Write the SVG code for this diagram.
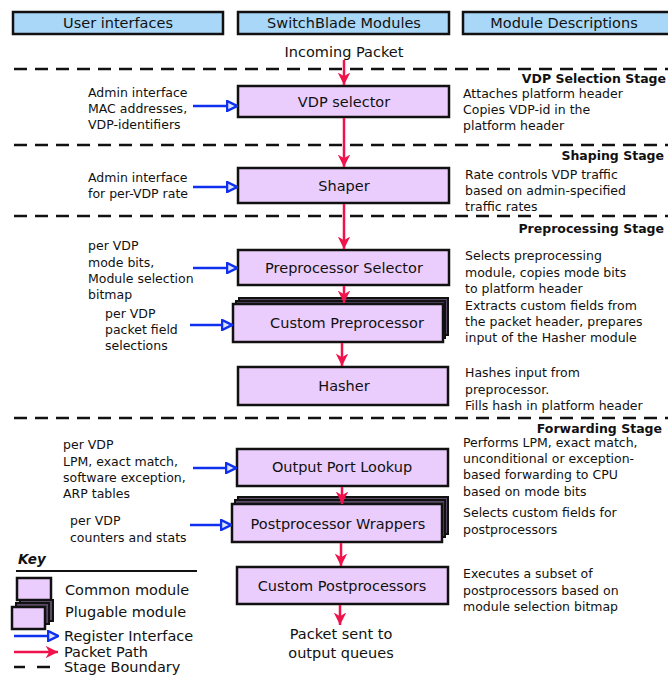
<svg xmlns="http://www.w3.org/2000/svg" width="668" height="675" viewBox="0 0 668 675">
  <defs>
    <marker id="redHead" viewBox="0 0 10 10" refX="10" refY="5" markerWidth="5" markerHeight="5" markerUnits="strokeWidth" orient="auto">
      <path d="M0,0 L10,5 L0,10 L3,5 z" fill="#f0124a"/>
    </marker>
    <marker id="blueHead" viewBox="0 0 10 10" refX="9" refY="5" markerWidth="5" markerHeight="5" markerUnits="strokeWidth" orient="auto">
      <path d="M1,1 L9,5 L1,9 z" fill="#dfe6ff" stroke="#1030f0" stroke-width="2"/>
    </marker>
  </defs>
  <style>
    text { font-family: "DejaVu Sans", "Noto Sans", sans-serif; fill: #111; }
    .hdr { font-size: 14.5px; text-anchor: middle; }
    .mod { font-size: 14.5px; text-anchor: middle; }
    .t { font-size: 12.5px; }
    .stage { font-size: 12.5px; font-weight: bold; text-anchor: end; }
    .hbox { fill: #a9d7f7; stroke: #111; stroke-width: 2.5; }
    .box { fill: #ebcdfd; stroke: #111; stroke-width: 2.5; }
    .back { fill: #5a4a66; stroke: #111; stroke-width: 2; }
    .dash { stroke: #111; stroke-width: 2.5; stroke-dasharray: 13 8; fill: none; }
    .red { stroke: #f0124a; stroke-width: 2.5; fill: none; marker-end: url(#redHead); }
    .blue { stroke: #1030f0; stroke-width: 2.5; fill: none; marker-end: url(#blueHead); }
  </style>

  <!-- column headers -->
  <g id="hdr-user">
    <rect class="hbox" x="13" y="12" width="210" height="22"/>
    <text class="hdr" x="118" y="28">User interfaces</text>
  </g>
  <g id="hdr-modules">
    <rect class="hbox" x="238" y="12" width="211" height="22"/>
    <text class="hdr" x="344" y="28">SwitchBlade Modules</text>
  </g>
  <g id="hdr-desc">
    <rect class="hbox" x="463" y="12" width="210" height="22"/>
    <text class="hdr" x="564" y="28">Module Descriptions</text>
  </g>

  <text class="hdr" x="344" y="57">Incoming Packet</text>

  <!-- stage boundaries -->
  <g id="boundaries">
    <line class="dash" x1="14" y1="69" x2="668" y2="69"/>
    <line class="dash" x1="14" y1="145" x2="668" y2="145"/>
    <line class="dash" x1="14" y1="216" x2="668" y2="216"/>
    <line class="dash" x1="14" y1="418" x2="668" y2="418"/>
  </g>
  <text class="stage" x="666" y="83">VDP Selection Stage</text>
  <text class="stage" x="664" y="160">Shaping Stage</text>
  <text class="stage" x="664" y="233">Preprocessing Stage</text>
  <text class="stage" x="662" y="433">Forwarding Stage</text>

  <!-- modules -->
  <g id="vdp-selector">
    <rect class="box" x="238" y="86" width="211" height="31"/>
    <text class="mod" x="344" y="107">VDP selector</text>
  </g>
  <g id="shaper">
    <rect class="box" x="238" y="168" width="211" height="35"/>
    <text class="mod" x="344" y="191">Shaper</text>
  </g>
  <g id="preproc-selector">
    <rect class="box" x="238" y="250" width="211" height="35"/>
    <text class="mod" x="344" y="273">Preprocessor Selector</text>
  </g>
  <g id="custom-preproc">
    <rect class="back" x="239" y="298" width="209" height="37"/>
    <rect class="back" x="236" y="301" width="209" height="37"/>
    <rect class="box" x="233" y="304" width="210" height="38"/>
    <text class="mod" x="347" y="328">Custom Preprocessor</text>
  </g>
  <g id="hasher">
    <rect class="box" x="238" y="367" width="210" height="38"/>
    <text class="mod" x="344" y="391">Hasher</text>
  </g>
  <g id="output-port-lookup">
    <rect class="box" x="237" y="449" width="211" height="37"/>
    <text class="mod" x="342" y="472">Output Port Lookup</text>
  </g>
  <g id="postproc-wrappers">
    <rect class="back" x="238" y="497" width="210" height="37"/>
    <rect class="back" x="235" y="500" width="210" height="37"/>
    <rect class="box" x="232" y="504" width="210" height="38"/>
    <text class="mod" x="338" y="529">Postprocessor Wrappers</text>
  </g>
  <g id="custom-postproc">
    <rect class="box" x="237" y="567" width="211" height="37"/>
    <text class="mod" x="342" y="591">Custom Postprocessors</text>
  </g>

  <!-- connectors -->
  <g id="connectors">
    <line class="red" x1="344" y1="60" x2="344" y2="85"/>
    <line class="red" x1="344" y1="118" x2="344" y2="167"/>
    <line class="red" x1="344" y1="204" x2="344" y2="249"/>
    <line class="red" x1="344" y1="286" x2="344" y2="303"/>
    <line class="red" x1="342" y1="343" x2="342" y2="366"/>
    <line class="red" x1="342" y1="487" x2="342" y2="504"/>
    <line class="red" x1="341" y1="543" x2="341" y2="566"/>
    <line class="red" x1="340" y1="605" x2="340" y2="625"/>
    <line class="blue" x1="193" y1="106" x2="237" y2="106"/>
    <line class="blue" x1="193" y1="187" x2="237" y2="187"/>
    <line class="blue" x1="193" y1="268" x2="237" y2="268"/>
    <line class="blue" x1="190" y1="325" x2="232" y2="325"/>
    <line class="blue" x1="193" y1="468" x2="236" y2="468"/>
    <line class="blue" x1="190" y1="525" x2="231" y2="525"/>
  </g>

  <!-- user interface labels -->
  <g id="ui-labels">
    <text class="t" x="88" y="97">Admin interface</text>
    <text class="t" x="88" y="113">MAC addresses,</text>
    <text class="t" x="88" y="129">VDP-identifiers</text>
    <text class="t" x="88" y="182">Admin interface</text>
    <text class="t" x="88" y="198">for per-VDP rate</text>
    <text class="t" x="88" y="250">per VDP</text>
    <text class="t" x="88" y="267">mode bits,</text>
    <text class="t" x="88" y="283">Module selection</text>
    <text class="t" x="88" y="299">bitmap</text>
    <text class="t" x="105" y="318">per VDP</text>
    <text class="t" x="105" y="334">packet field</text>
    <text class="t" x="105" y="350">selections</text>
    <text class="t" x="63" y="449">per VDP</text>
    <text class="t" x="63" y="466">LPM, exact match,</text>
    <text class="t" x="63" y="482">software exception,</text>
    <text class="t" x="63" y="498">ARP tables</text>
    <text class="t" x="70" y="525">per VDP</text>
    <text class="t" x="70" y="542">counters and stats</text>
  </g>

  <!-- module descriptions -->
  <g id="descriptions">
    <text class="t" x="463" y="98">Attaches platform header</text>
    <text class="t" x="463" y="114">Copies VDP-id in the</text>
    <text class="t" x="463" y="130">platform header</text>
    <text class="t" x="465" y="179">Rate controls VDP traffic</text>
    <text class="t" x="465" y="195">based on admin-specified</text>
    <text class="t" x="465" y="211">traffic rates</text>
    <text class="t" x="465" y="260">Selects preprocessing</text>
    <text class="t" x="465" y="277">module, copies mode bits</text>
    <text class="t" x="465" y="293">to platform header</text>
    <text class="t" x="465" y="310">Extracts custom fields from</text>
    <text class="t" x="465" y="326">the packet header, prepares</text>
    <text class="t" x="465" y="342">input of the Hasher module</text>
    <text class="t" x="465" y="377">Hashes input from</text>
    <text class="t" x="465" y="394">preprocessor.</text>
    <text class="t" x="465" y="410">Fills hash in platform header</text>
    <text class="t" x="463" y="447">Performs LPM, exact match,</text>
    <text class="t" x="463" y="463">unconditional or exception-</text>
    <text class="t" x="463" y="479">based forwarding to CPU</text>
    <text class="t" x="463" y="496">based on mode bits</text>
    <text class="t" x="463" y="517">Selects custom fields for</text>
    <text class="t" x="463" y="534">postprocessors</text>
    <text class="t" x="463" y="578">Executes a subset of</text>
    <text class="t" x="463" y="595">postprocessors based on</text>
    <text class="t" x="463" y="611">module selection bitmap</text>
  </g>

  <text class="hdr" x="341" y="639">Packet sent to</text>
  <text class="hdr" x="341" y="658">output queues</text>

  <!-- legend -->
  <g id="key">
    <text x="18" y="564" style="font-size:13.5px;font-weight:bold;font-style:italic">Key</text>
    <line x1="16" y1="571" x2="197" y2="571" stroke="#111" stroke-width="2"/>
    <rect class="box" x="17" y="578" width="34" height="22"/>
    <text class="hdr" x="65" y="595" style="text-anchor:start">Common module</text>
    <rect class="back" x="20" y="600" width="33" height="21"/>
    <rect class="back" x="16" y="603" width="33" height="21"/>
    <rect class="box" x="12" y="607" width="33" height="22"/>
    <text class="hdr" x="65" y="617" style="text-anchor:start">Plugable module</text>
    <line class="blue" x1="14" y1="636" x2="58" y2="636"/>
    <text class="hdr" x="64" y="641" style="text-anchor:start">Register Interface</text>
    <line class="red" x1="14" y1="652" x2="58" y2="652"/>
    <text class="hdr" x="64" y="657" style="text-anchor:start">Packet Path</text>
    <line x1="14" y1="667" x2="25" y2="667" stroke="#111" stroke-width="2.5"/>
    <line x1="37" y1="667" x2="50" y2="667" stroke="#111" stroke-width="2.5"/>
    <text class="hdr" x="64" y="672" style="text-anchor:start">Stage Boundary</text>
  </g>
</svg>
